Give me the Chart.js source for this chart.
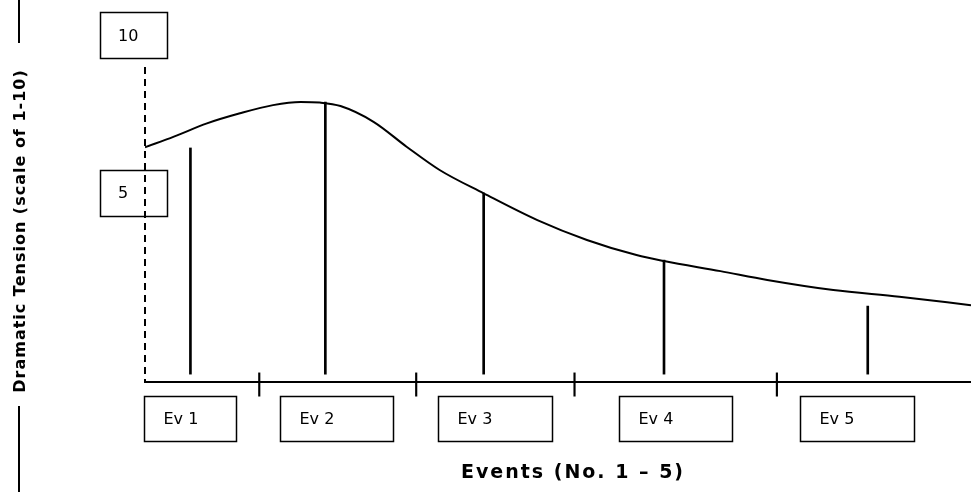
<!DOCTYPE html>
<html>
<head>
<meta charset="utf-8">
<script src="https://cdn.jsdelivr.net/npm/chart.js@4"></script>
<style>
  html, body { margin: 0; padding: 0; background: #fff; }
  #wrap { width: 971px; height: 492px; }
</style>
</head>
<body>
<div id="wrap"><canvas id="c" width="971" height="492"></canvas></div>
<script>
// events along the plot, x in "story time" units
const eventNames = ['Ev 1', 'Ev 2', 'Ev 3', 'Ev 4', 'Ev 5'];
const eventX = [0.33, 1.31, 2.46, 3.77, 5.25];
const eventTension = [6.43, 7.89, 5.0, 2.87, 1.41];

// the tension curve
const curveX = [0, 0.21, 0.45, 0.69, 0.93, 1.13, 1.27, 1.42, 1.66, 1.9, 2.14, 2.46,
                2.85, 3.21, 3.57, 3.77, 4.18, 4.52, 5.0, 5.48, 6];
const curveY = [6.45, 6.79, 7.21, 7.53, 7.79, 7.89, 7.87, 7.76, 7.26, 6.47, 5.73, 4.99,
                4.14, 3.51, 3.03, 2.84, 2.52, 2.24, 1.92, 1.71, 1.44];

// little separator ticks on the x axis
const separatorX = [0.83, 1.97, 3.12, 4.59];

// y tick labels, drawn in boxes
const yTickValues = [10, 5];
const yTickLabels = ['10', '5'];

const xTitle = 'Events (No. 1 \u2013 5)';
const yTitle = 'Dramatic Tension (scale of 1-10)';

// layout only (not data)
const stemBase = -0.75;
const sepRange = [-1.45, -0.71];
const eventBoxCenter = [0.33, 1.39, 2.54, 3.85, 5.17];
const eventBoxWidth = [92, 113, 114, 113, 114];

const boxesPlugin = {
    id: 'boxes',
    afterDraw(chart) {
        const ctx = chart.ctx;
        const xs = chart.scales.x, ys = chart.scales.y;
        const area = chart.chartArea;
        ctx.save();
        ctx.strokeStyle = '#000';
        ctx.fillStyle = '#000';

        // dashed y axis
        ctx.lineWidth = 2;
        ctx.setLineDash([7, 5]);
        ctx.beginPath();
        ctx.moveTo(area.left, area.top);
        ctx.lineTo(area.left, area.bottom);
        ctx.stroke();
        ctx.setLineDash([]);

        ctx.lineWidth = 1.5;
        ctx.textBaseline = 'middle';
        ctx.textAlign = 'left';
        ctx.font = '16px "DejaVu Sans"';

        // y tick boxes
        yTickValues.forEach((v, i) => {
            const cy = ys.getPixelForValue(v);
            ctx.strokeRect(100.5, Math.round(cy - 23) + 0.5, 67, 46);
            ctx.fillText(yTickLabels[i], 118, cy + 1);
        });

        // event label boxes
        eventNames.forEach((name, i) => {
            const cx = xs.getPixelForValue(eventBoxCenter[i]);
            const left = Math.round(cx - eventBoxWidth[i] / 2) + 0.5;
            ctx.strokeRect(left, 396.5, eventBoxWidth[i], 45);
            ctx.fillText(name, left + 19, 420);
        });

        // x title
        ctx.font = 'bold 19px "DejaVu Sans"';
        ctx.letterSpacing = '2px';
        ctx.textAlign = 'center';
        ctx.fillText(xTitle, 573, 473);

        // y title, rotated, with a rule above and below
        ctx.save();
        ctx.translate(21, 231);
        ctx.rotate(-Math.PI / 2);
        ctx.font = 'bold 16px "DejaVu Sans"';
        ctx.letterSpacing = '1px';
        ctx.fillText(yTitle, 0, 0);
        ctx.restore();
        ctx.letterSpacing = '0px';
        ctx.lineWidth = 2;
        ctx.beginPath();
        ctx.moveTo(19, 0); ctx.lineTo(19, 43);
        ctx.moveTo(19, 406); ctx.lineTo(19, 492);
        ctx.stroke();
        ctx.restore();
    }
};

new Chart(document.getElementById('c').getContext('2d'), {
    type: 'line',
    data: {
        datasets: [
            {
                type: 'line',
                label: 'Tension',
                data: curveX.map((x, i) => ({ x: x, y: curveY[i] })),
                borderColor: '#000',
                borderWidth: 2,
                pointRadius: 0,
                fill: false,
                cubicInterpolationMode: 'monotone'
            },
            {
                type: 'bar',
                label: 'Events',
                data: eventX.map((x, i) => ({ x: x, y: [stemBase, eventTension[i]] })),
                backgroundColor: '#000',
                barThickness: 2,
                grouped: false
            },
            {
                type: 'bar',
                label: 'Separators',
                data: separatorX.map(x => ({ x: x, y: sepRange })),
                backgroundColor: '#000',
                barThickness: 1.5,
                grouped: false,
                clip: false
            }
        ]
    },
    options: {
        responsive: false,
        animation: false,
        events: [],
        layout: { padding: { left: 145, top: 67, right: 0, bottom: 110 } },
        plugins: {
            legend: { display: false },
            tooltip: { enabled: false },
            title: { display: false }
        },
        scales: {
            x: {
                type: 'linear',
                min: 0,
                max: 6,
                offset: false,
                ticks: { display: false },
                grid: { display: false, drawTicks: false, offset: false },
                border: { display: true, color: '#000', width: 2 },
                afterFit: s => { s.height = 0; }
            },
            y: {
                type: 'linear',
                min: -1,
                max: 9,
                ticks: { display: false },
                grid: { display: false, drawTicks: false },
                border: { display: false },
                afterFit: s => { s.width = 0; }
            }
        }
    },
    plugins: [boxesPlugin]
});
</script>
</body>
</html>
